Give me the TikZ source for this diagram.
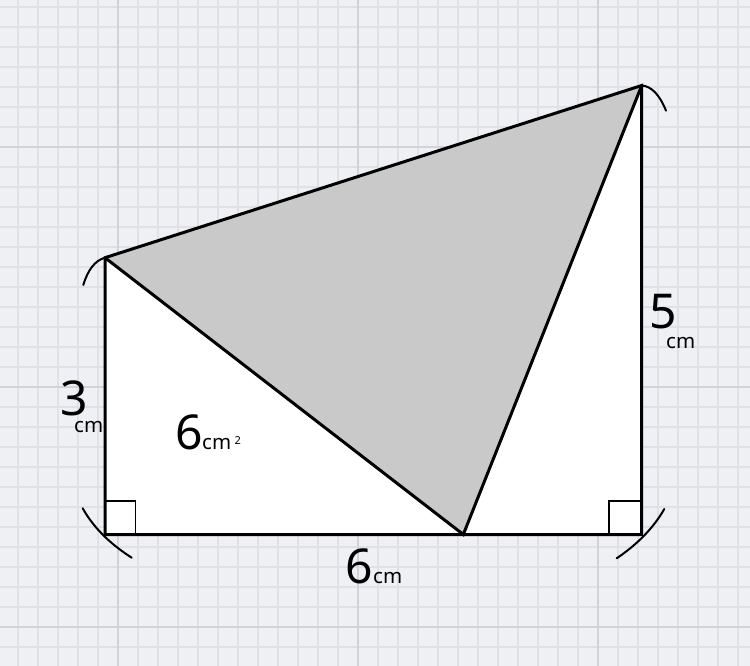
\documentclass[tikz,border=0pt]{standalone}
\usepackage{fontspec}
\setmainfont{Noto Sans}
\definecolor{bgcol}{RGB}{239,240,244}
\definecolor{minorcol}{RGB}{224,225,230}
\definecolor{majorcol}{RGB}{210,211,216}
\definecolor{shadegray}{RGB}{201,201,201}
\tikzset{
  minorline/.style={draw=minorcol, line width=1.4pt},
  majorline/.style={draw=majorcol, line width=1.8pt},
  edge/.style={draw=black, line width=3pt, line join=miter},
  rightmark/.style={draw=black, line width=1.9pt},
  bracketarc/.style={draw=black, line width=2pt, line cap=round},
  numtxt/.style={inner sep=0pt, anchor=base west, font=\fontsize{48}{48}\selectfont},
  unittxt/.style={inner sep=0pt, anchor=base west, font=\fontsize{20.5}{20.5}\selectfont},
  suptxt/.style={inner sep=0pt, anchor=base west, font=\fontsize{11}{11}\selectfont}
}
\begin{document}
\begin{tikzpicture}[x=1pt, y=-1pt]
\useasboundingbox (0,0) rectangle (750,666);
\fill[bgcol] (0,0) rectangle (750,666);
% grid
\foreach \k in {0,...,36} { \draw[minorline] (18+20*\k,0) -- (18+20*\k,666); }
\foreach \k in {0,...,33} { \draw[minorline] (0,7+20*\k) -- (750,7+20*\k); }
\foreach \xx in {118,358,598} { \draw[majorline] (\xx,0) -- (\xx,666); }
\foreach \yy in {147,387,627} { \draw[majorline] (0,\yy) -- (750,\yy); }
% points
\coordinate (BL) at (105,534.5);
\coordinate (TL) at (105,257.7);
\coordinate (TR) at (641.7,85.5);
\coordinate (BR) at (641.7,534.5);
\coordinate (M) at (463.3,534.5);
% fills
\fill[white] (BL) -- (TL) -- (TR) -- (BR) -- cycle;
\fill[shadegray] (TL) -- (TR) -- (M) -- cycle;
% right-angle marks
\coordinate (SL1) at (135.5,534.5);
\coordinate (SL2) at (135.5,501);
\coordinate (SL3) at (105,501);
\draw[rightmark] (SL1) -- (SL2) -- (SL3);
\coordinate (SR1) at (609.3,534.5);
\coordinate (SR2) at (609.3,501);
\coordinate (SR3) at (641.7,501);
\draw[rightmark] (SR1) -- (SR2) -- (SR3);
% edges
\draw[edge] (BL) -- (TL) -- (TR) -- (BR) -- cycle;
\draw[edge] (TL) -- (M) -- (TR);
% bracket arcs
\coordinate (a1s) at (82.7,508.3);
\coordinate (a1e) at (131.7,557.7);
\draw[bracketarc] (a1s) .. controls (93.2,527.1) and (109.6,543.6) .. (a1e);
\coordinate (a2s) at (83.3,285);
\draw[bracketarc] (a2s) .. controls (88,269.5) and (95.2,260.4) .. (TL);
\coordinate (a3e) at (666,110.7);
\draw[bracketarc] (TR) .. controls (651.4,86.2) and (659.5,94.6) .. (a3e);
\coordinate (a4s) at (664.3,509);
\coordinate (a4e) at (616.7,558.3);
\draw[bracketarc] (a4s) .. controls (653.6,527.7) and (637.7,544.1) .. (a4e);
% labels
\node[numtxt] (t3) at (60.5,415) {3};
\node[unittxt] (c3) at (74,432) {cm};
\node[numtxt] (t6a) at (175.5,449) {6};
\node[unittxt] (c6a) at (202,449) {cm};
\node[suptxt] (s6a) at (234.5,444) {2};
\node[numtxt] (t5) at (649,328) {5};
\node[unittxt] (c5) at (666,348) {cm};
\node[numtxt] (t6b) at (345.5,583) {6};
\node[unittxt] (c6b) at (373,583) {cm};
\end{tikzpicture}
\end{document}
